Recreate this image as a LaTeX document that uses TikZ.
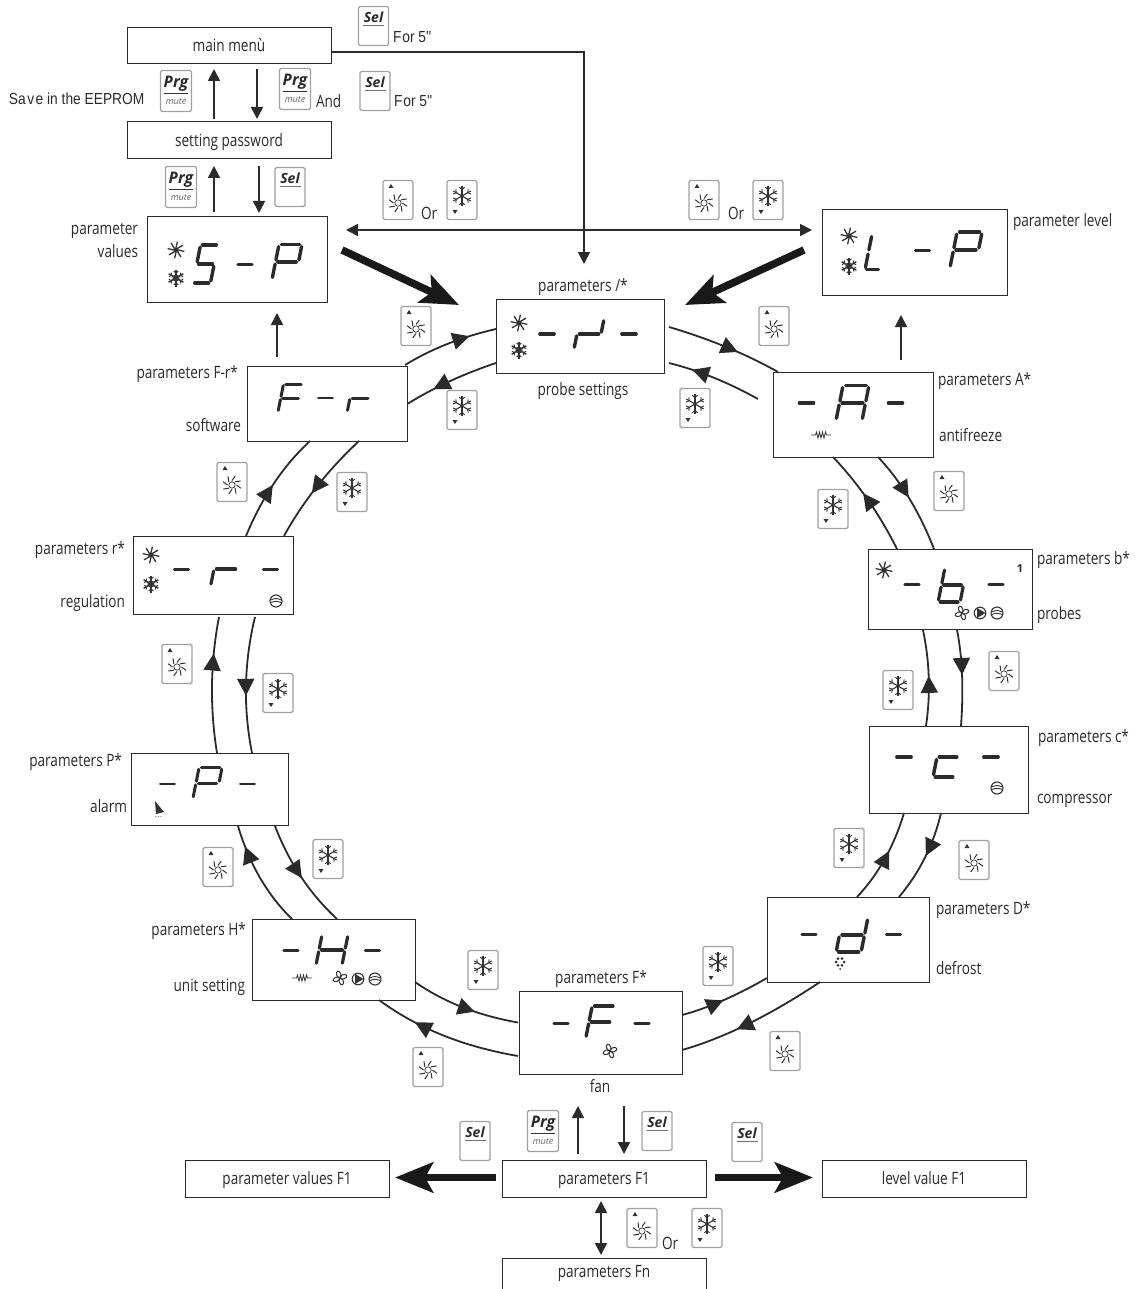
\documentclass[tikz,border=0pt]{standalone}
\usepackage{fontspec}
\setmainfont[FakeStretch=0.8]{Open Sans}
\newfontfamily\arialfont[FakeStretch=0.86]{Liberation Sans}
\newfontfamily\keyfont{Open Sans}
\usetikzlibrary{arrows.meta,decorations.markings,calc}
\definecolor{ink}{HTML}{2A2A2A}
\definecolor{keyedge}{HTML}{A0A0A0}
\definecolor{icon}{HTML}{333333}
\tikzset{
  box/.style={draw=ink,fill=white,line width=1pt,inner sep=0pt,outer sep=0pt,font=\fontsize{17}{20}\selectfont,text=ink},
  intext/.style={text height=15pt,text depth=3pt},
  lbl/.style={inner sep=0pt,outer sep=0pt,text=ink,font=\fontsize{17}{20}\selectfont,text height=15pt,text depth=3pt},
  arl/.style={inner sep=0pt,outer sep=0pt,text=ink,font=\arialfont\fontsize{16}{19}\selectfont,text height=13pt,text depth=3pt},
  arrowline/.style={draw=ink,line width=1.7pt,-{Triangle[length=12pt,width=12pt]}},
  twoarrow/.style={draw=ink,line width=1.7pt,{Triangle[length=12pt,width=12pt]}-{Triangle[length=12pt,width=12pt]}},
  bigarrow/.style={draw=black!90,line width=7.5pt,-{Stealth[length=38pt,width=30pt,inset=8pt]}},
  ringlink/.style={draw=ink,line width=1.8pt,postaction={decorate},decoration={markings,mark=at position #1 with {\arrow{Triangle[length=17pt,width=17pt]}}}},
  seg/.style={draw=ink,line cap=round},
  keybody/.style={draw=keyedge,fill=white,line width=1.3pt,rounded corners=1.5pt,minimum width=30pt,minimum height=39pt,inner sep=0pt,outer sep=0pt},
  pics/dsun/.style={code={
    \fill[icon] (0,0) circle (2.8);
    \foreach \a in {0,45,...,315}{\draw[icon,line width=1.3pt] (\a:2.5) -- (\a+10:8.5);}
  }},
  pics/dsnow/.style={code={
    \foreach \a in {30,90,...,330}{
      \draw[icon,line width=1.4pt] (0,0) -- (\a:8.5);
      \draw[icon,line width=1pt] (\a:5) -- ++(\a+50:3);
      \draw[icon,line width=1pt] (\a:5) -- ++(\a-50:3);
    }
    \draw[icon,line width=1pt] (0,0) circle (3);
  }},
  pics/keysun/.style={code={
    \node[keybody] (-b) at (0,0) {};
    \fill[icon] (-9.5,-12) -- (-4.5,-12) -- (-7,-16) -- cycle;
    \draw[icon,line width=.7pt] (0,3) circle (3.2);
    \foreach \a in {0,45,...,315}{\draw[icon,line width=1pt,shift={(0,3)}] (\a:4.5) -- (\a+20:9.5);}
  }},
  pics/keysnow/.style={code={
    \node[keybody] (-b) at (0,0) {};
    \fill[icon] (-9.5,10) -- (-4.5,10) -- (-7,14) -- cycle;
    \foreach \a in {30,90,...,330}{
      \draw[icon,line width=1.1pt,shift={(0,-4)}] (0,0) -- (\a:10);
      \draw[icon,line width=.9pt,shift={(0,-4)}] (\a:6.5) -- ++(\a+50:3.5);
      \draw[icon,line width=.9pt,shift={(0,-4)}] (\a:6.5) -- ++(\a-50:3.5);
    }
  }},
  pics/keysel/.style={code={
    \node[keybody] (-b) at (0,0) {};
    \draw[icon!70,line width=.7pt] (-10.5,-.5) -- (10.5,-.5);
    \node[inner sep=0pt,text=ink,font=\keyfont\bfseries\itshape\fontsize{14}{15}\selectfont] (-t) at (0,-9) {Sel};
  }},
  pics/keyprg/.style={code={
    \node[keybody,minimum width=31pt,minimum height=41pt] (-b) at (0,0) {};
    \draw[icon,line width=.7pt] (-12,2.5) -- (12,2.5);
    \node[inner sep=0pt,text=ink,font=\keyfont\bfseries\itshape\fontsize{16}{17}\selectfont] (-t) at (0,-7) {Prg};
    \node[inner sep=0pt,text=black!60,font=\keyfont\itshape\fontsize{9}{10}\selectfont] (-m) at (0,10.5) {mute};
  }},
  pics/dfan/.style={code={
    \foreach \a in {20,110,200,290}{\draw[icon,line width=1pt,rotate=\a] (3.6,0) ellipse (3.6 and 2.1);}
  }},
  pics/dpump/.style={code={
    \draw[icon,line width=1.1pt] (0,0) circle (5.8);
    \fill[icon] (-3,-5) -- (5.5,0) -- (-3,5) -- cycle;
  }},
  pics/dcomp/.style={code={
    \draw[icon,line width=1.1pt] (0,0) circle (6);
    \draw[icon,line width=.9pt] (-5.5,-1) .. controls (0,-3) .. (5.5,-1);
    \draw[icon,line width=.9pt] (-5.5,1.5) .. controls (0,0) .. (5.5,1.5);
  }},
  pics/dheat/.style={code={
    \draw[icon,line width=.8pt] (-10,0) -- (-5.5,0) -- (-4.5,-3) -- (-3,3) -- (-1.5,-3) -- (0,3) -- (1.5,-3) -- (3,3) -- (4.5,-3) -- (5.5,0) -- (10,0);
  }},
  pics/dbell/.style={code={
    \fill[icon] (-4,-9) -- (5,2) -- (-3,4) -- cycle;
    \foreach \x in {-3,-.5,2}{\fill[icon!70] (\x,6.5) circle (.7);}
  }},
  pics/ddefrost/.style={code={
    \foreach \a in {0,60,...,300}{\fill[icon] (\a:4) circle (1.5);}
    \fill[icon] (0,7) circle (1);
  }},
}
\newcommand\sga{\draw[seg] (-.4,-.5) -- (.4,-.5);}
\newcommand\sgb{\draw[seg] (.5,-.44) -- (.5,-.06);}
\newcommand\sgc{\draw[seg] (.5,.06) -- (.5,.44);}
\newcommand\sgd{\draw[seg] (-.4,.5) -- (.4,.5);}
\newcommand\sge{\draw[seg] (-.5,.06) -- (-.5,.44);}
\newcommand\sgf{\draw[seg] (-.5,-.44) -- (-.5,-.06);}
\newcommand\sgg{\draw[seg] (-.4,0) -- (.4,0);}
\newcommand\dgt[6]{\begin{scope}[shift={(#1,#2)},xslant=.2,xscale=#3,yscale=#4,line width=#5pt]\foreach \s in {#6}{\csname sg\s\endcsname}\end{scope}}
\newcommand\ddash[3]{\dgt{#1}{#2}{18}{10}{#3}{g}}
\newcommand\rlink[6]{%
  \coordinate (rs) at ([shift={(#3)}]#2);
  \coordinate (re) at ([shift={(#6)}]#5);
  \draw[ringlink={#1}] (rs) .. controls ($(rs)!.6667!(#4)$) and ($(re)!.6667!(#4)$) .. (re);}
\begin{document}
\begin{tikzpicture}[x=1pt,y=-1pt]
\clip (0,0) rectangle (1134,1289);
\useasboundingbox (0,0) rectangle (1134,1289);
% boxes
\node[box,intext,minimum width=204pt,minimum height=36pt] (mm) at (229,46) {main menù};
\node[box,intext,minimum width=204pt,minimum height=37pt] (pw) at (229,140.5) {setting password};
\node[box,minimum width=180pt,minimum height=85pt] (sp) at (237,259.5) {};
\node[box,minimum width=185pt,minimum height=85pt] (lp) at (914.5,252.5) {};
\node[box,minimum width=168pt,minimum height=74pt] (pr) at (580,336) {};
\node[box,minimum width=160pt,minimum height=75pt] (fr) at (327,403.5) {};
\node[box,minimum width=160pt,minimum height=85pt] (a) at (853,414.5) {};
\node[box,minimum width=164pt,minimum height=80pt] (b) at (950,589) {};
\node[box,minimum width=159pt,minimum height=87pt] (c) at (948.5,769.5) {};
\node[box,minimum width=162pt,minimum height=85pt] (d) at (848,939.5) {};
\node[box,minimum width=163pt,minimum height=83pt] (f) at (600.5,1032.5) {};
\node[box,minimum width=163pt,minimum height=81pt] (h) at (333.5,959.5) {};
\node[box,minimum width=157pt,minimum height=72pt] (p) at (209.5,789) {};
\node[box,minimum width=160pt,minimum height=78pt] (r) at (213,575) {};
\node[box,intext,minimum width=204pt,minimum height=37pt] (f1) at (604,1178.5) {parameters F1};
\node[box,minimum width=204pt,minimum height=37pt] (fn) at (604,1276.5) {};
\node[box,intext,minimum width=204pt,minimum height=37pt] (v1) at (287,1178.5) {parameter values F1};
\node[box,intext,minimum width=204pt,minimum height=37pt] (l1) at (924,1178.5) {level value F1};
% ring connectors
\rlink{.62}{pr.east}{5,-9}{730,345}{a.north west}{5,0}
\rlink{.75}{a.west}{-15,-15.5}{713,374}{pr.east}{5,27}
\rlink{.72}{fr.north east}{-2,-1}{444,341}{pr.west}{0,-7}
\rlink{.7}{pr.west}{0,27}{448,379}{fr.east}{1,0}
\rlink{.5}{r.north west}{113,0}{270,478}{fr.south west}{63,0}
\rlink{.58}{fr.south west}{112,0}{312,485}{r.north west}{151,0}
\rlink{.73}{p.north west}{86,0}{206,685}{r.south west}{86,3}
\rlink{.58}{r.south west}{122,3}{238.5,685}{p.north west}{121,0}
\rlink{.8}{h.north west}{40,0}{255,883}{p.south west}{107,1}
\rlink{.52}{p.south west}{144,1}{296,881}{h.north west}{85,0}
\rlink{.6}{h.south east}{0,-18}{458,1012}{f.west}{-1,-10}
\rlink{.72}{f.west}{-1,23.5}{436,1042}{h.south west}{127,0}
\rlink{.47}{f.east}{0,-17.5}{720,1005}{d.south west}{0,-4}
\rlink{.62}{d.south west}{53,0}{745,1032}{f.east}{0,17.5}
\rlink{.58}{d.north west}{90,0}{889,863}{c.south west}{35,0}
\rlink{.48}{c.south west}{72,0}{930,860}{d.north west}{132,0}
\rlink{.52}{c.north west}{57,0}{933,678}{b.south west}{55,1}
\rlink{.47}{b.south west}{89,1}{965,670}{c.north west}{92,0}
\rlink{.58}{b.north west}{29,0}{871,497}{a.south west}{60,0}
\rlink{.47}{a.south west}{105,0}{912,493}{b.north west}{66,0}
% straight connectors
\draw[arrowline] ([shift={(-15,-3)}]pw.north) -- ([shift={(-15,5)}]mm.south);
\draw[arrowline] ([shift={(28,5)}]mm.south) -- ([shift={(28,-3)}]pw.north);
\draw[arrowline] ([shift={(-23,-5)}]sp.north) -- ([shift={(-15,7)}]pw.south);
\draw[arrowline] ([shift={(30,7)}]pw.south) -- ([shift={(22,-4)}]sp.north);
\draw[arrowline] ([shift={(-50,-9)}]fr.north) -- ([shift={(40,11)}]sp.south);
\draw[arrowline] ([shift={(48,-12)}]a.north) -- ([shift={(-13.5,20)}]lp.south);
\draw[arrowline] ([shift={(1,6)}]mm.east) -| ([shift={(4,-35)}]pr.north);
\draw[twoarrow] ([shift={(19,-29.5)}]sp.east) -- ([shift={(-10,-22.5)}]lp.west);
\draw[arrowline] ([shift={(-26,-6)}]f1.north) -- ([shift={(-22.5,32)}]f.south);
\draw[arrowline] ([shift={(23.5,32)}]f.south) -- ([shift={(20,-6)}]f1.north);
\draw[twoarrow] ([shift={(-3,4)}]f1.south) -- ([shift={(-3,-3)}]fn.north);
\draw[bigarrow] ([shift={(15,-9.5)}]sp.east) -- ([shift={(-37,6)}]pr.north west);
\draw[bigarrow] ([shift={(-18,-2.5)}]lp.west) -- ([shift={(21,6)}]pr.north east);
\draw[bigarrow] ([shift={(-6,-1)}]f1.west) -- ([shift={(6,-1)}]v1.east);
\draw[bigarrow] ([shift={(9,-1)}]f1.east) -- ([shift={(-9,-1)}]l1.west);
% keys
\pic (k1) at (373.5,26) {keysel};
\pic (k2) at (176,91) {keyprg};
\pic (k3) at (295,89) {keyprg};
\pic (k4) at (375,91) {keysel};
\pic (k5) at (181,187) {keyprg};
\pic (k6) at (290,187) {keysel};
\pic (k7) at (398,200) {keysun};
\pic (k8) at (462,200) {keysnow};
\pic (k9) at (704,200) {keysun};
\pic (k10) at (768,200) {keysnow};
\pic (k11) at (774,326) {keysun};
\pic (k12) at (695,408) {keysnow};
\pic (k13) at (416,326) {keysun};
\pic (k14) at (462,410) {keysnow};
\pic (k15) at (232,482) {keysun};
\pic (k16) at (352,492) {keysnow};
\pic (k17) at (833,509) {keysnow};
\pic (k18) at (949,491) {keysun};
\pic (k19) at (898,690) {keysnow};
\pic (k20) at (1004,671) {keysun};
\pic (k21) at (849,848) {keysnow};
\pic (k22) at (974,860) {keysun};
\pic (k23) at (177,664) {keysun};
\pic (k24) at (278,693) {keysnow};
\pic (k25) at (218,867) {keysun};
\pic (k26) at (328,859) {keysnow};
\pic (k27) at (483,970) {keysnow};
\pic (k28) at (428,1067) {keysun};
\pic (k29) at (718,966) {keysnow};
\pic (k30) at (785,1051) {keysun};
\pic (k31) at (475,1141) {keysel};
\pic (k32) at (543,1131) {keyprg};
\pic (k33) at (657,1131) {keysel};
\pic (k34) at (747,1142) {keysel};
\pic (k35) at (642,1228) {keysun};
\pic (k36) at (707,1228) {keysnow};
% displays
\dgt{205.5}{264}{17.5}{38}{3.4}{a,f,g,c,d}
\ddash{245}{264}{3}
\dgt{287}{262}{23}{35}{3.4}{a,b,f,g,e}
\pic at (176,250) {dsun}; \pic at (176,278) {dsnow};
\dgt{876}{252}{15}{35}{3.4}{f,e,d}
\ddash{922.5}{250}{3}
\dgt{966}{250}{25}{36}{3.4}{a,b,f,g,e}
\pic at (849,236) {dsun}; \pic at (849,266) {dsnow};
\dgt{589}{334}{24}{30}{3.4}{e,g,b}
\ddash{547}{334}{3.2}\ddash{629}{334}{3.2}
\pic at (519,323) {dsun}; \pic at (519,350) {dsnow};
\dgt{290.5}{398}{19.5}{28}{3}{a,f,g,e}
\ddash{325.5}{398}{2.8}
\dgt{360}{398}{20}{28}{3}{e,g}
\dgt{852.5}{403}{26}{35}{3.4}{a,b,c,e,f,g}
\ddash{806.5}{403}{3.2}\ddash{895.5}{403}{3.2}
\pic at (821,435) {dheat};
\dgt{952.5}{585}{22}{34}{3.2}{f,e,d,c,g}
\ddash{912}{584}{3}\ddash{996}{584}{3}
\pic at (884,570) {dsun};
\node[inner sep=0pt,text=ink,font=\keyfont\bfseries\fontsize{11}{12}\selectfont] (one) at (1020,569) {1};
\pic at (962,613) {dfan}; \pic at (980,613) {dpump}; \pic at (997,613) {dcomp};
\dgt{948}{757}{22}{40}{3.4}{g,e,d}
\ddash{904}{757}{3.4}\ddash{991}{757}{3.4}
\pic at (997,788) {dcomp};
\dgt{852}{935}{25}{34}{3.4}{b,c,d,e,g}
\ddash{809}{934}{3}\ddash{893.5}{934}{3}
\pic at (840,962) {ddefrost};
\dgt{600.5}{1022}{23}{32}{3.4}{a,f,g,e}
\ddash{561}{1023}{3}\ddash{642}{1023}{3}
\pic at (610,1051) {dfan};
\dgt{332}{950}{26}{30}{3.2}{b,c,e,f,g}
\ddash{291}{950}{3}\ddash{372.5}{950}{3}
\pic at (302,978) {dheat}; \pic at (340,978) {dfan}; \pic at (358,979) {dpump}; \pic at (375,979) {dcomp};
\dgt{207.5}{783}{23}{31}{3}{a,b,f,g,e}
\ddash{167.5}{784}{2.8}\ddash{247.5}{784}{2.8}
\pic at (159,810) {dbell};
\dgt{226}{569}{24}{34}{3.2}{e,g}
\ddash{181.5}{569}{3}\ddash{270.5}{569}{3}
\pic at (151,555) {dsun}; \pic at (151,584) {dsnow}; \pic at (276,601) {dcomp};
% labels
\node[arl,anchor=west] (t1) at (9,100) {Sa\kern1.5pt v\kern1.5pt e in the EEPROM};
\node[arl,anchor=west] (t2) at (393,38) {F\kern1pt or 5''};
\node[arl,anchor=west] (t3) at (394,102) {F\kern1pt or 5''};
\node[lbl,anchor=west] (t4) at (316,102) {And};
\node[lbl,anchor=west] (t5) at (421,214) {Or};
\node[lbl,anchor=west] (t6) at (728,214) {Or};
\node[lbl,anchor=west] (t7) at (662,1243) {Or};
\node[lbl,anchor=east] (t8) at (138,228) {parameter};
\node[lbl,anchor=east] (t9) at (138,251) {values};
\node[lbl,anchor=west] (t10) at (1013,220) {parameter level};
\node[lbl] (t11) at (583,285) {parameters /*};
\node[lbl] (t12) at (583,389) {probe settings};
\node[lbl,anchor=east] (t13) at (238,372) {parameters F-r*};
\node[lbl,anchor=east] (t14) at (241,425) {software};
\node[lbl,anchor=west] (t15) at (938,379) {parameters A*};
\node[lbl,anchor=west] (t16) at (939,435) {antifreeze};
\node[lbl,anchor=west] (t17) at (1037,558) {parameters b*};
\node[lbl,anchor=west] (t18) at (1037,613) {probes};
\node[lbl,anchor=west] (t19) at (1038,736) {parameters c*};
\node[lbl,anchor=west] (t20) at (1037,797) {compressor};
\node[lbl,anchor=west] (t21) at (936,908) {parameters D*};
\node[lbl,anchor=west] (t22) at (936,968) {defrost};
\node[lbl,anchor=east] (t23) at (125,548) {parameters r*};
\node[lbl,anchor=east] (t24) at (125,601) {regulation};
\node[lbl,anchor=east] (t25) at (122,760) {parameters P*};
\node[lbl,anchor=east] (t26) at (127,806) {alarm};
\node[lbl,anchor=east] (t27) at (246,929) {parameters H*};
\node[lbl,anchor=east] (t28) at (245,985) {unit setting};
\node[lbl] (t29) at (601,977) {parameters F*};
\node[lbl] (t30) at (600,1086) {fan};
\node[lbl] (t31) at (604,1271) {parameters Fn};
\end{tikzpicture}
\end{document}
